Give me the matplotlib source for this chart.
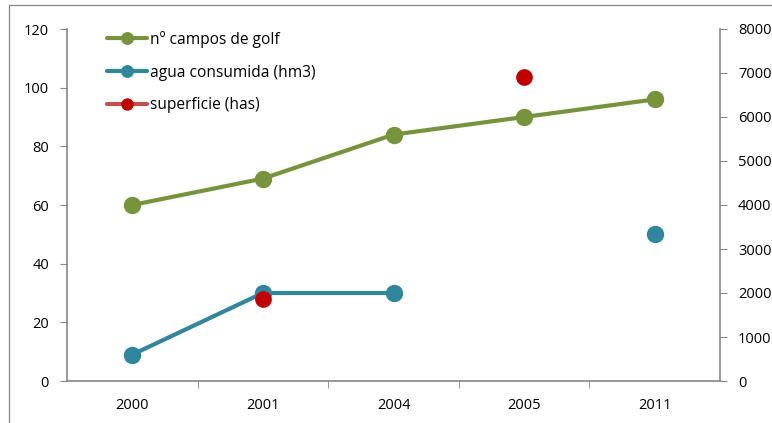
import numpy as np
import matplotlib.pyplot as plt
from matplotlib.patches import Rectangle

# Campos de golf: número, agua consumida y superficie
years = ["2000", "2001", "2004", "2005", "2011"]
campos = [60, 69, 84, 90, 96]
agua = [9, 30, 30, np.nan, 50]
superficie = [np.nan, 1860, np.nan, 6900, np.nan]

GREEN = "#77933C"
BLUE = "#31859C"
RED_LINE = "#C0504D"
RED_MARK = "#C00000"
AXIS = "#868686"

plt.rcParams["font.family"] = ["Open Sans", "DejaVu Sans"]
plt.rcParams["font.size"] = 10.5

W, H = 772, 423
fig = plt.figure(figsize=(W / 100, H / 100), dpi=100)

# outer chart frame (left/top edges visible)
fig.patches.append(Rectangle((8.5 / W, -0.05), 1.2, (H - 5.5) / H + 0.05,
                             transform=fig.transFigure, fill=False,
                             edgecolor=AXIS, linewidth=0.9))

ax = fig.add_axes([67 / W, (H - 381) / H, (720 - 67) / W, (381 - 29) / H])
ax2 = ax.twinx()

x = np.arange(len(years))

ax.plot(x, campos, color=GREEN, lw=3, marker="o", ms=11.5,
        label="nº campos de golf", solid_capstyle="round")
ax.plot(x, agua, color=BLUE, lw=3, marker="o", ms=11.5,
        label="agua consumida (hm3)", solid_capstyle="round")
ax2.plot(x, superficie, color=RED_LINE, lw=3, marker="o", ms=11,
         markerfacecolor=RED_MARK, markeredgecolor=RED_MARK,
         label="superficie (has)", solid_capstyle="round")

ax.set_xlim(-0.5, len(years) - 0.5)
ax.set_ylim(0, 120)
ax2.set_ylim(0, 8000)
ax.set_yticks(np.arange(0, 121, 20))
ax2.set_yticks(np.arange(0, 8001, 1000))

ax.set_xticks(x)
ax.set_xticklabels(years)
ax.set_xticks(np.arange(0.5, len(years) - 0.5, 1), minor=True)
ax.tick_params(axis="x", which="major", length=0, pad=12)
ax.tick_params(axis="x", which="minor", length=5, color=AXIS, direction="out")
ax.tick_params(axis="y", length=5, color=AXIS, direction="out", pad=8)
ax2.tick_params(axis="y", length=5, color=AXIS, direction="out", pad=8)

for a in (ax, ax2):
    a.spines["top"].set_visible(False)
    for s in ("left", "right", "bottom"):
        a.spines[s].set_color(AXIS)
        a.spines[s].set_linewidth(1.2)
ax.spines["right"].set_visible(False)
ax2.spines["left"].set_visible(False)
ax2.spines["bottom"].set_visible(False)

h1, l1 = ax.get_legend_handles_labels()
h2, l2 = ax2.get_legend_handles_labels()
leg = ax2.legend(h1 + h2, l1 + l2, loc="upper left",
                 bbox_to_anchor=((107 - 67) / 653, 0.995),
                 frameon=False, borderpad=0, borderaxespad=0,
                 markerscale=0.72, prop={"size": 11.2},
                 handlelength=2.6, handletextpad=0.15, labelspacing=1.08)

fig.savefig("out.png", dpi=100)
